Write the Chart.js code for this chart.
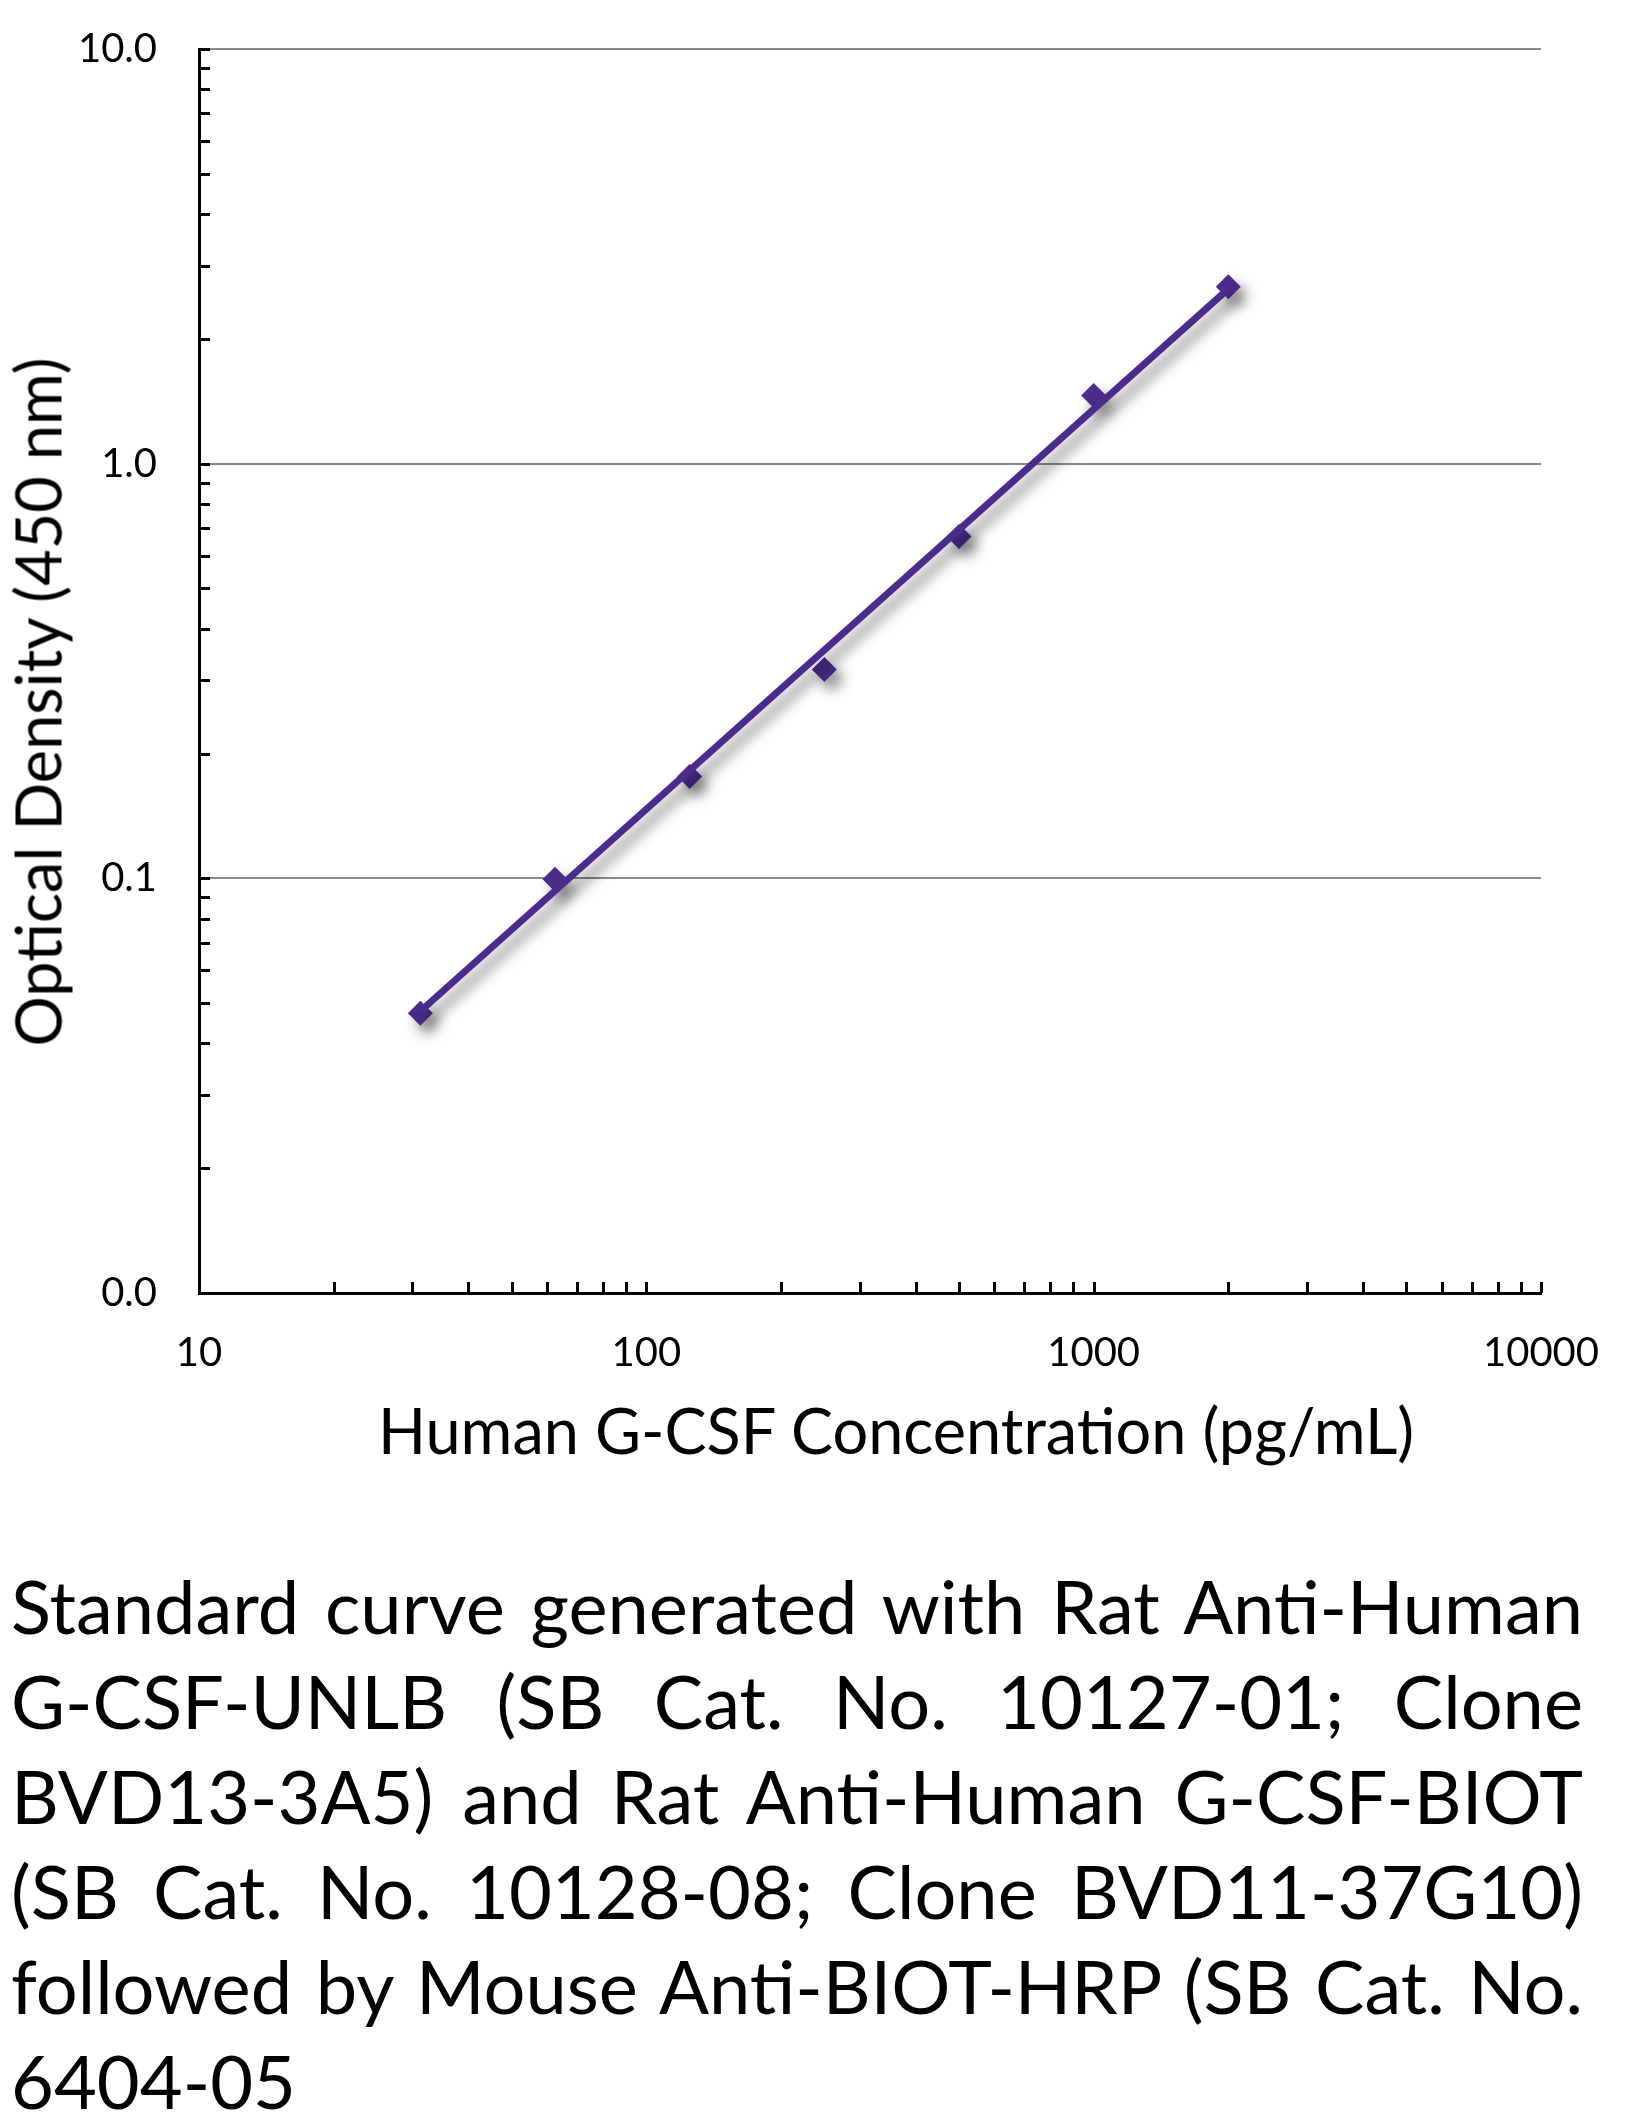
<!DOCTYPE html>
<html>
<head>
<meta charset="utf-8">
<script src="https://cdn.jsdelivr.net/npm/chart.js@4.4.1/dist/chart.umd.min.js"></script>
<style>
  html, body { margin: 0; padding: 0; background: #fff; }
  body { width: 1645px; height: 2124px; position: relative; overflow: hidden; font-family: Lato, "Open Sans", sans-serif; color: #000; }
  #chartWrap { position: absolute; left: 0; top: 0; width: 1645px; height: 1480px; }
  .axisTitle { position: absolute; white-space: nowrap; font-size: 63px; line-height: 1; transform-origin: center center; }
  #xTitle { left: 896px; top: 1429px; transform: translate(-50%, -50%); }
  #yTitle { left: 37px; top: 702px; transform: translate(-50%, -50%) rotate(-90deg); }
  #caption { position: absolute; left: 11px; top: 1558px; width: 1572px; font-size: 74px; line-height: 95px; }
  #caption .ln { text-align: justify; text-align-last: justify; }
  #caption .ln.last { text-align: left; text-align-last: left; }
</style>
</head>
<body>
<div id="chartWrap"><canvas id="c" width="1645" height="1480"></canvas></div>
<div class="axisTitle" id="xTitle">Human G-CSF Concentration (pg/mL)</div>
<div class="axisTitle" id="yTitle">Optical Density (450 nm)</div>
<div id="caption"></div>
<script>
// ---- data ----
const concentrations = [31.25, 62.5, 125, 250, 500, 1000, 2000];          // pg/mL
const opticalDensity = [0.0473, 0.0995, 0.176, 0.319, 0.667, 1.46, 2.67]; // OD 450 nm
const trendConc = [31.25, 2000];        // fitted line end points
const trendOD = [0.0478, 2.64];

const xMajorValues = [10, 100, 1000, 10000];
const xMajorLabels = ["10", "100", "1000", "10000"];
const xMinorValues = [20, 30, 40, 50, 60, 70, 80, 90, 200, 300, 400, 500, 600, 700, 800, 900,
                      2000, 3000, 4000, 5000, 6000, 7000, 8000, 9000];
const yMajorValues = [0.01, 0.1, 1, 10];
const yMajorLabels = ["0.0", "0.1", "1.0", "10.0"];
const yMinorValues = [0.02, 0.03, 0.04, 0.05, 0.06, 0.07, 0.08, 0.09,
                      0.2, 0.3, 0.4, 0.5, 0.6, 0.7, 0.8, 0.9,
                      2, 3, 4, 5, 6, 7, 8, 9];
const captionLines = [
  "Standard curve generated with Rat Anti-Human",
  "G-CSF-UNLB (SB Cat. No. 10127-01; Clone",
  "BVD13-3A5) and Rat Anti-Human G-CSF-BIOT",
  "(SB Cat. No. 10128-08; Clone BVD11-37G10)",
  "followed by Mouse Anti-BIOT-HRP (SB Cat. No.",
  "6404-05"
];

// caption
const cap = document.getElementById('caption');
captionLines.forEach((t, i) => {
  const d = document.createElement('div');
  d.className = 'ln' + (i === captionLines.length - 1 ? ' last' : '');
  d.textContent = t;
  cap.appendChild(d);
});

const PURPLE = '#492C8C';

const innerTicks = {
  id: 'innerTicks',
  beforeDatasetsDraw(chart) {
    const { ctx, chartArea: a, scales: { x, y } } = chart;
    ctx.save();
    ctx.strokeStyle = '#000';
    ctx.lineWidth = 3;
    ctx.beginPath();
    y.ticks.forEach(t => {
      const p = Math.round(y.getPixelForValue(t.value)) + 0.5;
      ctx.moveTo(a.left, p); ctx.lineTo(a.left + 11, p);
    });
    x.ticks.forEach(t => {
      const p = Math.round(x.getPixelForValue(t.value)) + 0.5;
      ctx.moveTo(p, a.bottom); ctx.lineTo(p, a.bottom - 11);
    });
    ctx.stroke();
    ctx.restore();
    ctx.save();
    ctx.shadowColor = 'rgba(0,0,0,0.5)';
    ctx.shadowBlur = 14;
    ctx.shadowOffsetX = 7;
    ctx.shadowOffsetY = 9;
  },
  afterDatasetsDraw(chart) {
    chart.ctx.restore();
  }
};

function build() {
  new Chart(document.getElementById('c'), {
    type: 'scatter',
    data: {
      datasets: [
        {
          label: 'Fit',
          data: trendConc.map((v, i) => ({ x: v, y: trendOD[i] })),
          showLine: true,
          borderColor: PURPLE,
          borderWidth: 7,
          pointRadius: 0,
          fill: false
        },
        {
          label: 'Standard',
          data: concentrations.map((v, i) => ({ x: v, y: opticalDensity[i] })),
          showLine: false,
          pointStyle: 'rectRot',
          pointRadius: 12.5,
          backgroundColor: PURPLE,
          borderColor: PURPLE,
          borderWidth: 0
        }
      ]
    },
    options: {
      responsive: false,
      animation: false,
      devicePixelRatio: 1,
      layout: { padding: { top: 49, right: 104, left: 0, bottom: 0 } },
      plugins: { legend: { display: false }, tooltip: { enabled: false } },
      scales: {
        x: {
          type: 'logarithmic',
          min: 10, max: 10000,
          afterBuildTicks: s => { s.ticks = xMajorValues.concat(xMinorValues).sort((a, b) => a - b).map(v => ({ value: v, major: xMajorValues.includes(v) })); },
          afterFit: s => { s.height = 187; },
          grid: { display: true, color: 'rgba(0,0,0,0)', drawTicks: false },
          border: { display: true, color: '#000', width: 3 },
          ticks: {
            autoSkip: false, maxRotation: 0, minRotation: 0, padding: 36,
            color: '#000', font: { family: 'Lato', size: 40 },
            callback: (v) => { const i = xMajorValues.indexOf(v); return i >= 0 ? xMajorLabels[i] : ''; }
          }
        },
        y: {
          type: 'logarithmic',
          min: 0.01, max: 10,
          afterBuildTicks: s => { s.ticks = yMajorValues.concat(yMinorValues).sort((a, b) => a - b).map(v => ({ value: v, major: yMajorValues.includes(v) })); },
          afterFit: s => { s.width = 199; s.paddingTop = 0; s.paddingBottom = 0; },
          grid: {
            display: true, drawTicks: false, lineWidth: 2,
            color: c => (c.tick && yMajorValues.includes(c.tick.value) && c.tick.value !== 0.01) ? '#8a8a8a' : 'rgba(0,0,0,0)'
          },
          border: { display: true, color: '#000', width: 3 },
          ticks: {
            autoSkip: false, padding: 42,
            color: '#000', font: { family: 'Lato', size: 40 },
            callback: (v) => { const i = yMajorValues.indexOf(v); return i >= 0 ? yMajorLabels[i] : ''; }
          }
        }
      }
    },
    plugins: [innerTicks]
  });
}

if (document.fonts && document.fonts.load) {
  Promise.all([document.fonts.load('40px Lato'), document.fonts.load('63px Lato'), document.fonts.load('74px Lato')]).then(build, build);
} else {
  build();
}
</script>
</body>
</html>
